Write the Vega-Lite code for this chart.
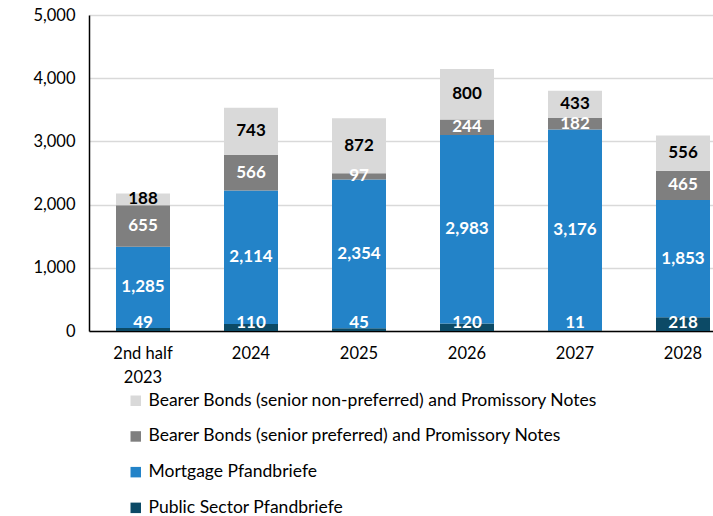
{
  "$schema": "https://vega.github.io/schema/vega-lite/v6.json",
  "width": 624,
  "height": 316,
  "autosize": {"type": "none"},
  "padding": {"left": 89, "top": 15, "right": 0, "bottom": 185},
  "background": "white",
  "config": {
    "view": {"stroke": null},
    "font": "Lato",
    "axis": {"labelFont": "Lato", "labelFontSize": 16.5, "labelColor": "black"},
    "legend": {"labelFont": "Lato", "labelFontSize": 17.5, "labelColor": "black"}
  },
  "data": {
    "values": [
      {"year": "2nd half 2023", "series": "Public Sector Pfandbriefe", "value": 49},
      {"year": "2nd half 2023", "series": "Mortgage Pfandbriefe", "value": 1285},
      {"year": "2nd half 2023", "series": "Bearer Bonds (senior preferred) and Promissory Notes", "value": 655},
      {"year": "2nd half 2023", "series": "Bearer Bonds (senior non-preferred) and Promissory Notes", "value": 188},
      {"year": "2024", "series": "Public Sector Pfandbriefe", "value": 110},
      {"year": "2024", "series": "Mortgage Pfandbriefe", "value": 2114},
      {"year": "2024", "series": "Bearer Bonds (senior preferred) and Promissory Notes", "value": 566},
      {"year": "2024", "series": "Bearer Bonds (senior non-preferred) and Promissory Notes", "value": 743},
      {"year": "2025", "series": "Public Sector Pfandbriefe", "value": 45},
      {"year": "2025", "series": "Mortgage Pfandbriefe", "value": 2354},
      {"year": "2025", "series": "Bearer Bonds (senior preferred) and Promissory Notes", "value": 97},
      {"year": "2025", "series": "Bearer Bonds (senior non-preferred) and Promissory Notes", "value": 872},
      {"year": "2026", "series": "Public Sector Pfandbriefe", "value": 120},
      {"year": "2026", "series": "Mortgage Pfandbriefe", "value": 2983},
      {"year": "2026", "series": "Bearer Bonds (senior preferred) and Promissory Notes", "value": 244},
      {"year": "2026", "series": "Bearer Bonds (senior non-preferred) and Promissory Notes", "value": 800},
      {"year": "2027", "series": "Public Sector Pfandbriefe", "value": 11},
      {"year": "2027", "series": "Mortgage Pfandbriefe", "value": 3176},
      {"year": "2027", "series": "Bearer Bonds (senior preferred) and Promissory Notes", "value": 182},
      {"year": "2027", "series": "Bearer Bonds (senior non-preferred) and Promissory Notes", "value": 433},
      {"year": "2028", "series": "Public Sector Pfandbriefe", "value": 218},
      {"year": "2028", "series": "Mortgage Pfandbriefe", "value": 1853},
      {"year": "2028", "series": "Bearer Bonds (senior preferred) and Promissory Notes", "value": 465},
      {"year": "2028", "series": "Bearer Bonds (senior non-preferred) and Promissory Notes", "value": 556}
    ]
  },
  "transform": [
    {"calculate": "indexof(['Public Sector Pfandbriefe','Mortgage Pfandbriefe','Bearer Bonds (senior preferred) and Promissory Notes','Bearer Bonds (senior non-preferred) and Promissory Notes'], datum.series)", "as": "idx"},
    {"stack": "value", "groupby": ["year"], "sort": [{"field": "idx", "order": "ascending"}], "as": ["y0", "y1"]},
    {"calculate": "max((datum.y0 + datum.y1) / 2, 130)", "as": "mid"}
  ],
  "encoding": {
    "x": {
      "field": "year",
      "type": "nominal",
      "sort": null,
      "scale": {"domain": ["2nd half 2023", "2024", "2025", "2026", "2027", "2028"], "range": [0, 648], "paddingInner": 0.5, "paddingOuter": 0.25},
      "axis": {
        "title": null,
        "labelAngle": 0,
        "ticks": false,
        "domainColor": "black",
        "domainWidth": 1.5,
        "labelPadding": 14,
        "labelLineHeight": 24,
        "labelExpr": "datum.value == '2nd half 2023' ? ['2nd half', '2023'] : datum.value"
      }
    }
  },
  "layer": [
    {
      "mark": {"type": "bar"},
      "encoding": {
        "y": {
          "field": "y0",
          "type": "quantitative",
          "scale": {"domain": [0, 5000], "nice": false},
          "axis": {
            "title": null,
            "values": [0, 1000, 2000, 3000, 4000, 5000],
            "format": ",.0f",
            "ticks": false,
            "domainColor": "black",
            "domainWidth": 1.5,
            "gridColor": "#D9D9D9",
            "gridWidth": 1.5,
            "labelPadding": 14
          }
        },
        "y2": {"field": "y1"},
        "color": {
          "field": "series",
          "type": "nominal",
          "scale": {
            "domain": [
              "Bearer Bonds (senior non-preferred) and Promissory Notes",
              "Bearer Bonds (senior preferred) and Promissory Notes",
              "Mortgage Pfandbriefe",
              "Public Sector Pfandbriefe"
            ],
            "range": ["#D9D9D9", "#7F7F7F", "#2383C8", "#0C4A66"]
          },
          "legend": {
            "title": null,
            "orient": "none",
            "legendX": 38,
            "legendY": 377,
            "symbolType": "square",
            "symbolSize": 110,
            "symbolStrokeWidth": 0,
            "labelOffset": 4,
            "rowPadding": 16.7,
            "labelLimit": 600
          }
        }
      }
    },
    {
      "mark": {"type": "text", "font": "Lato", "fontWeight": "bold", "fontSize": 17, "baseline": "middle", "align": "center"},
      "encoding": {
        "y": {"field": "mid", "type": "quantitative"},
        "text": {"field": "value", "type": "quantitative", "format": ","},
        "color": {
          "condition": {"test": "datum.series == 'Bearer Bonds (senior non-preferred) and Promissory Notes'", "value": "black"},
          "value": "white"
        }
      }
    }
  ]
}
